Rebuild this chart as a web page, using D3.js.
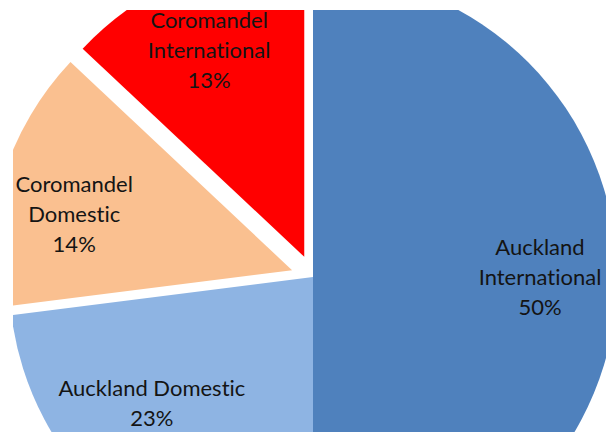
<!DOCTYPE html>
<html>
<head>
<meta charset="utf-8">
<script src="https://cdn.jsdelivr.net/npm/d3@7"></script>
<style>
  html, body { margin: 0; padding: 0; background: #fff; }
  svg { display: block; }
  text { font-variant-ligatures: none; }
</style>
</head>
<body>
<script>
// slices, clockwise from 12 o'clock
var categories = ["Auckland International", "Auckland Domestic", "Coromandel Domestic", "Coromandel International"];
var labelLines = [["Auckland", "International"], ["Auckland Domestic"], ["Coromandel", "Domestic"], ["Coromandel", "International"]];
var values = [50, 23, 14, 13];
var exploded = [false, false, true, true];
var colors = ["#4F81BD", "#8EB4E3", "#FAC090", "#FF0000"];

var w = 609, h = 432;
var cx = 313, cy = 277, r = 304;
var explodeBy = 22;
var labelR = 227;
var lineH = 30;
// small best-fit nudges for labels (px)
var labelNudge = [[0, 0], [0, 0], [-2, 14], [-5, 2]];

var svg = d3.select("body")
	.append("svg")
	.attr("width", w)
	.attr("height", h);

svg.append("clipPath")
	.attr("id", "plot")
	.append("rect")
	.attr("x", 13)
	.attr("y", 10)
	.attr("width", 593)
	.attr("height", 440);

var pie = d3.pie().sort(null).value(function(d) { return d; });
var arcs = pie(values);
var arc = d3.arc().innerRadius(0).outerRadius(r);

function offset(d, i) {
	var mid = (d.startAngle + d.endAngle) / 2;
	var k = exploded[i] ? explodeBy : 0;
	return [Math.sin(mid) * k, -Math.cos(mid) * k];
}

var g = svg.append("g")
	.attr("clip-path", "url(#plot)")
	.append("g")
	.attr("transform", "translate(" + cx + "," + cy + ")");

g.selectAll("path")
	.data(arcs)
	.enter()
	.append("path")
	.attr("d", arc)
	.attr("fill", function(d, i) { return colors[i]; })
	.attr("transform", function(d, i) {
		var o = offset(d, i);
		return "translate(" + o[0] + "," + o[1] + ")";
	});

var lbl = svg.append("g")
	.attr("transform", "translate(" + cx + "," + cy + ")");

arcs.forEach(function(d, i) {
	var mid = (d.startAngle + d.endAngle) / 2;
	var o = offset(d, i);
	var x = o[0] + Math.sin(mid) * labelR + labelNudge[i][0];
	var y = o[1] - Math.cos(mid) * labelR + labelNudge[i][1];
	var lines = labelLines[i].concat([Math.round(values[i]) + "%"]);
	var total = lines.length;
	// best fit: keep the block inside the visible area
	var bottom = h - cy - 14;
	if (y + (total - 1) * lineH / 2 > bottom) {
		y = bottom - (total - 1) * lineH / 2;
		x -= 11;
	}
	var t = lbl.append("text")
		.attr("text-anchor", "middle")
		.attr("font-family", "Lato, 'Open Sans', sans-serif")
		.attr("font-size", 22)
		.attr("fill", "#141414");
	lines.forEach(function(s, j) {
		t.append("tspan")
			.attr("x", x)
			.attr("y", y + (j - (total - 1) / 2) * lineH)
			.attr("dy", "0.35em")
			.text(s);
	});
});
</script>
</body>
</html>
